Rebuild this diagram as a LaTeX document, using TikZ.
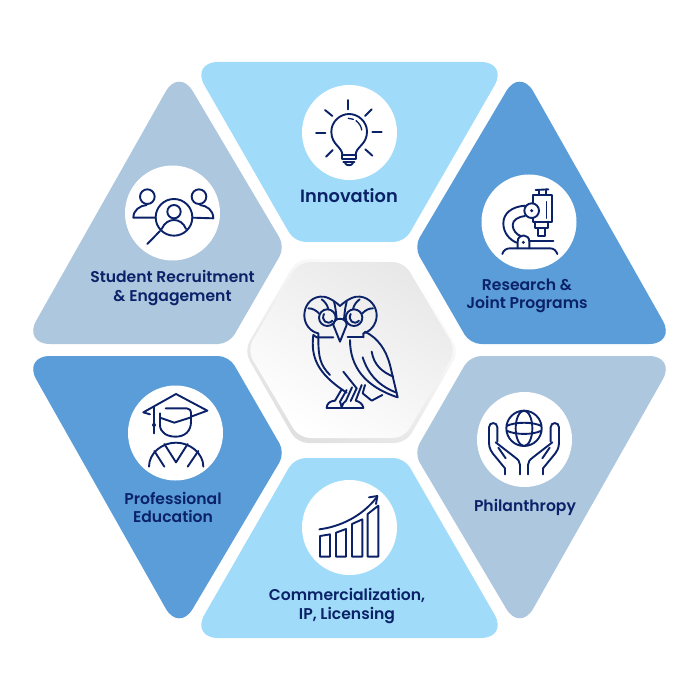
\documentclass[tikz,border=0pt]{standalone}
\usepackage{fontspec}
\setmainfont{Poppins}[UprightFont=* SemiBold]
\definecolor{navy}{HTML}{0B2268}
\definecolor{skyblue}{HTML}{A0DCF9}
\definecolor{midblue}{HTML}{5A9DD8}
\definecolor{greyblue}{HTML}{ADC7DE}
\tikzset{
	iconcircle/.style={circle, fill=white, minimum size=95pt, inner sep=0pt},
	iconline/.style={draw=navy, line width=1.9pt, line cap=round, line join=round},
	caption/.style={text=navy, align=center, font=\fontsize{15.6}{18.5}\selectfont, inner sep=0pt},
	wide/.style={rounded corners=11pt},
	tight/.style={rounded corners=27pt}
}
\begin{document}
\begin{tikzpicture}[x=1pt, y=-1pt]
	\useasboundingbox (0,0) rectangle (700,700);
	% outer panels
	\fill[skyblue] (349.5,62) [tight] -- (508,62) [wide] -- (404.5,242) -- (294.5,242) [tight] -- (191,62) -- cycle;
	\fill[greyblue] (120,344) [tight] -- (23,344) -- (179,68) [wide] -- (285,247) -- (229,344) -- cycle;
	\fill[midblue] (579,344) [tight] -- (676,344) -- (520,68) [wide] -- (414,247) -- (470,344) -- cycle;
	\fill[midblue] (120,356) [tight] -- (23,356) -- (179,632) [wide] -- (285,453) -- (229,356) -- cycle;
	\fill[greyblue] (579,356) [tight] -- (676,356) -- (520,632) [wide] -- (414,453) -- (470,356) -- cycle;
	\fill[skyblue] (349.5,638) [tight] -- (508,638) [wide] -- (404.5,458) -- (294.5,458) [tight] -- (191,638) -- cycle;
	% centre hexagon
	\shade[wide, top color=white, middle color=white, bottom color=black!12, shading angle=-30]
		(244,351) -- (297,259) -- (406,259) -- (459,351) -- (406,443) -- (297,443) -- cycle;
	\shade[wide, top color=black!9, bottom color=white, shading angle=-30]
		(247,350) -- (299,262) -- (404,262) -- (456,350) -- (404,438) -- (299,438) -- cycle;
	% icon circles
	\node[iconcircle] (innovation) at (349.5,132.5) {};
	\node[iconcircle] (student) at (172.5,213) {};
	\node[iconcircle] (research) at (529,222) {};
	\node[iconcircle] (education) at (175.5,433) {};
	\node[iconcircle] (philanthropy) at (524.5,439.5) {};
	\node[iconcircle] (commerce) at (349.5,527.5) {};
	% labels
	\node[caption, font=\fontsize{17.8}{20}\selectfont] (innovationtext) at (349,196) {Innovation};
	\node[caption] (studenttext) at (172.5,288) {Student Recruitment\\\& Engagement};
	\node[caption] (researchtext) at (527,296) {Research \&\\Joint Programs};
	\node[caption] (educationtext) at (173,507.5) {Professional\\Education};
	\node[caption] (philanthropytext) at (525,507) {Philanthropy};
	\node[caption] (commercetext) at (347,606) {Commercialization,\\IP, Licensing};
	% owl
	\begin{scope}[shift={(250,250)}, scale=1/3]
		\draw[iconline] (270,168) .. controls (245,145) and (225,138) .. (210,140) .. controls (180,143) and (162,170) .. (163,198) .. controls (164,225) and (182,245) .. (205,250) -- (205,262);
		\draw[iconline] (270,168) .. controls (295,145) and (315,138) .. (330,140) .. controls (360,143) and (381,170) .. (380,198) .. controls (379,225) and (360,245) .. (340,250) -- (340,262);
		\draw[iconline] (175,175) .. controls (187,175) and (197,180) .. (207,190);
		\draw[iconline] (215,148) .. controls (225,155) and (232,165) .. (235,177);
		\draw[iconline] (369,175) .. controls (357,175) and (347,180) .. (337,190);
		\draw[iconline] (329,148) .. controls (319,155) and (312,165) .. (309,177);
		\draw[iconline] (252,155) .. controls (256,170) and (258,185) .. (260,207);
		\draw[iconline] (290,155) .. controls (286,170) and (284,185) .. (282,207);
		\draw[iconline] (232,203) circle (25);
		\draw[iconline] (312,203) circle (25);
		\draw[iconline] (222,192) .. controls (212,210) and (232,228) .. (247,212);
		\draw[iconline] (302,192) .. controls (292,210) and (312,228) .. (327,212);
		\draw[iconline] (250,225) .. controls (250,200) and (290,200) .. (290,225) -- (270,275) -- cycle;
		\draw[iconline] (190,255) -- (200,262) -- (250,262);
		\draw[iconline] (293,262) -- (340,262);
		\draw[iconline] (190,255) .. controls (182,320) and (200,370) .. (290,428);
		\draw[iconline] (205,265) .. controls (205,320) and (210,345) .. (240,375);
		\draw[iconline] (300,270) .. controls (300,350) and (345,410) .. (443,442) -- (420,345) .. controls (408,300) and (385,265) .. (345,245);
		\draw[iconline] (338,322) .. controls (355,375) and (390,410) .. (440,428);
		\draw[iconline] (365,305) .. controls (372,345) and (395,365) .. (430,380);
		\draw[iconline] (345,405) -- (338,430) -- (365,452) -- (397,435);
		\draw[iconline] (280,365) -- (320,415);
		% feet
		\draw[iconline] (230,473) -- (340,473);
		\draw[iconline] (275,418) -- (255,452) .. controls (240,453) and (231,460) .. (230,473);
		\draw[iconline] (290,420) -- (270,455) .. controls (272,460) and (274,466) .. (275,473);
		\draw[iconline] (306,412) -- (288,452) .. controls (281,456) and (276,464) .. (275,473);
		\draw[iconline] (320,415) -- (302,453);
		\draw[iconline] (335,405) -- (317,452) .. controls (330,455) and (338,463) .. (340,473);
	\end{scope}
	% light bulb
	\begin{scope}[shift={(290,80)}, scale=1/3]
		\draw[iconline] (175,60) -- (175,88);
		\draw[iconline] (105,90) -- (127,108);
		\draw[iconline] (245,88) -- (225,108);
		\draw[iconline] (78,158) -- (106,158);
		\draw[iconline] (247,157) -- (275,157);
		\draw[iconline] (108,230) -- (128,210);
		\draw[iconline] (247,227) -- (226,208);
		\draw[iconline] (157,225) .. controls (157,200) and (124,195) .. (124,155) .. controls (124,125) and (150,102) .. (177,102) .. controls (205,102) and (231,125) .. (231,155) .. controls (231,195) and (197,200) .. (197,225) -- cycle;
		\draw[iconline] (157,225) -- (157,237) -- (197,237) -- (197,225);
		\draw[iconline] (160,247) -- (193,247);
		\draw[iconline] (165,249) .. controls (168,258) and (186,258) .. (189,249);
		\draw[iconline, line width=1.3pt] (175,115) -- (190,118);
		\draw[iconline, line width=1.3pt] (198,122) .. controls (208,130) and (214,140) .. (215,150);
	\end{scope}
	% people and lens
	\begin{scope}[shift={(115,155)}, scale=1/3]
		\draw[iconline] (97,125) circle (22);
		\draw[iconline] (122,188) -- (55,188) .. controls (55,165) and (75,152) .. (95,150);
		\draw[iconline] (252,125) circle (22);
		\draw[iconline] (232,188) -- (295,190) .. controls (295,165) and (275,152) .. (255,150);
		\draw[iconline] (177,187) circle (55);
		\draw[iconline] (177,170) circle (20);
		\draw[iconline] (140,222) .. controls (148,203) and (163,195) .. (177,195) .. controls (191,195) and (206,203) .. (213,222);
		\draw[iconline] (135,228) -- (97,267);
	\end{scope}
	% microscope
	\begin{scope}[shift={(470,170)}, scale=1/3]
		\draw[iconline] (197,60) -- (235,58);
		\draw[iconline] (207,60) -- (207,75);
		\draw[iconline] (227,58) -- (227,75);
		\draw[iconline] (188,98) -- (188,75) -- (245,75) -- (245,155) -- (190,155) -- (190,145);
		\draw[iconline] (196,155) -- (196,175) -- (235,175) -- (235,155);
		\draw[iconline] (205,175) -- (205,198) -- (225,198) -- (225,175);
		\draw[iconline] (185,122) circle (22);
		\fill[navy] (185,122) circle (5);
		\draw[iconline, line width=1.3pt] (229,95) -- (229,145);
		\draw[iconline] (165,107) .. controls (125,110) and (100,130) .. (100,160) .. controls (100,190) and (120,210) .. (140,218);
		\draw[iconline] (165,138) .. controls (145,140) and (128,150) .. (128,165) .. controls (128,180) and (140,195) .. (152,198);
		\draw[iconline] (143,235) -- (143,215) .. controls (143,190) and (178,190) .. (178,215) -- (178,235);
		\fill[navy] (160,217) circle (5);
		\draw[iconline] (178,212) -- (250,212);
		\draw[iconline] (97,252) .. controls (100,240) and (110,235) .. (120,235) -- (240,235) .. controls (252,235) and (258,242) .. (262,252);
	\end{scope}
	% graduate
	\begin{scope}[shift={(115,375)}, scale=1/3]
		\draw[iconline] (105,118) -- (85,112) -- (183,57) -- (277,107) -- (228,125);
		\draw[iconline] (135,128) -- (178,143) -- (228,127);
		\draw[iconline] (117,97) -- (117,175);
		\fill[navy] (117,150) circle (6);
		\draw[iconline] (135,115) -- (135,150) .. controls (135,172) and (155,185) .. (182,185) .. controls (208,185) and (228,170) .. (228,140) -- (228,115) .. controls (228,105) and (222,100) .. (215,100) -- (152,100);
		\draw[iconline] (102,275) .. controls (102,235) and (140,203) .. (183,203) .. controls (225,203) and (265,235) .. (265,275);
		\draw[iconline] (148,207) -- (183,262) -- (218,207);
		\draw[iconline] (118,228) -- (148,275);
		\draw[iconline] (250,228) -- (218,275);
	\end{scope}
	% globe in hands
	\begin{scope}[shift={(465,380)}, scale=1/3]
		\draw[iconline] (177,145) circle (53);
		\draw[iconline] (177,145) ellipse (25 and 53);
		\draw[iconline] (125,138) .. controls (150,125) and (205,125) .. (229,138);
		\draw[iconline] (125,152) .. controls (150,165) and (205,165) .. (229,152);
		\foreach \sx/\dx in {1/0,-1/354} {
			\begin{scope}[shift={(\dx,0)}, xscale=\sx]
				\draw[iconline] (120,283) -- (120,265) -- (83,220) .. controls (72,205) and (72,195) .. (72,180) -- (72,142) .. controls (72,125) and (97,125) .. (97,142) -- (97,185);
				\draw[iconline] (92,187) -- (150,232) .. controls (160,240) and (165,245) .. (165,255) -- (165,283);
				\draw[iconline] (100,203) -- (122,235);
			\end{scope}
		}
	\end{scope}
	% growth chart
	\begin{scope}[shift={(290,470)}, scale=1/3]
		\draw[iconline] (90,198) -- (120,193) -- (120,260) -- (90,260) -- cycle;
		\draw[iconline] (138,188) -- (168,177) -- (168,260) -- (138,260) -- cycle;
		\draw[iconline] (186,162) -- (217,148) -- (217,260) -- (186,260) -- cycle;
		\draw[iconline] (233,132) -- (265,107) -- (265,260) -- (233,260) -- cycle;
		\draw[iconline] (88,178) .. controls (150,170) and (215,140) .. (260,82);
		\draw[iconline] (237,82) -- (262,78) -- (258,102);
	\end{scope}
\end{tikzpicture}
\end{document}
